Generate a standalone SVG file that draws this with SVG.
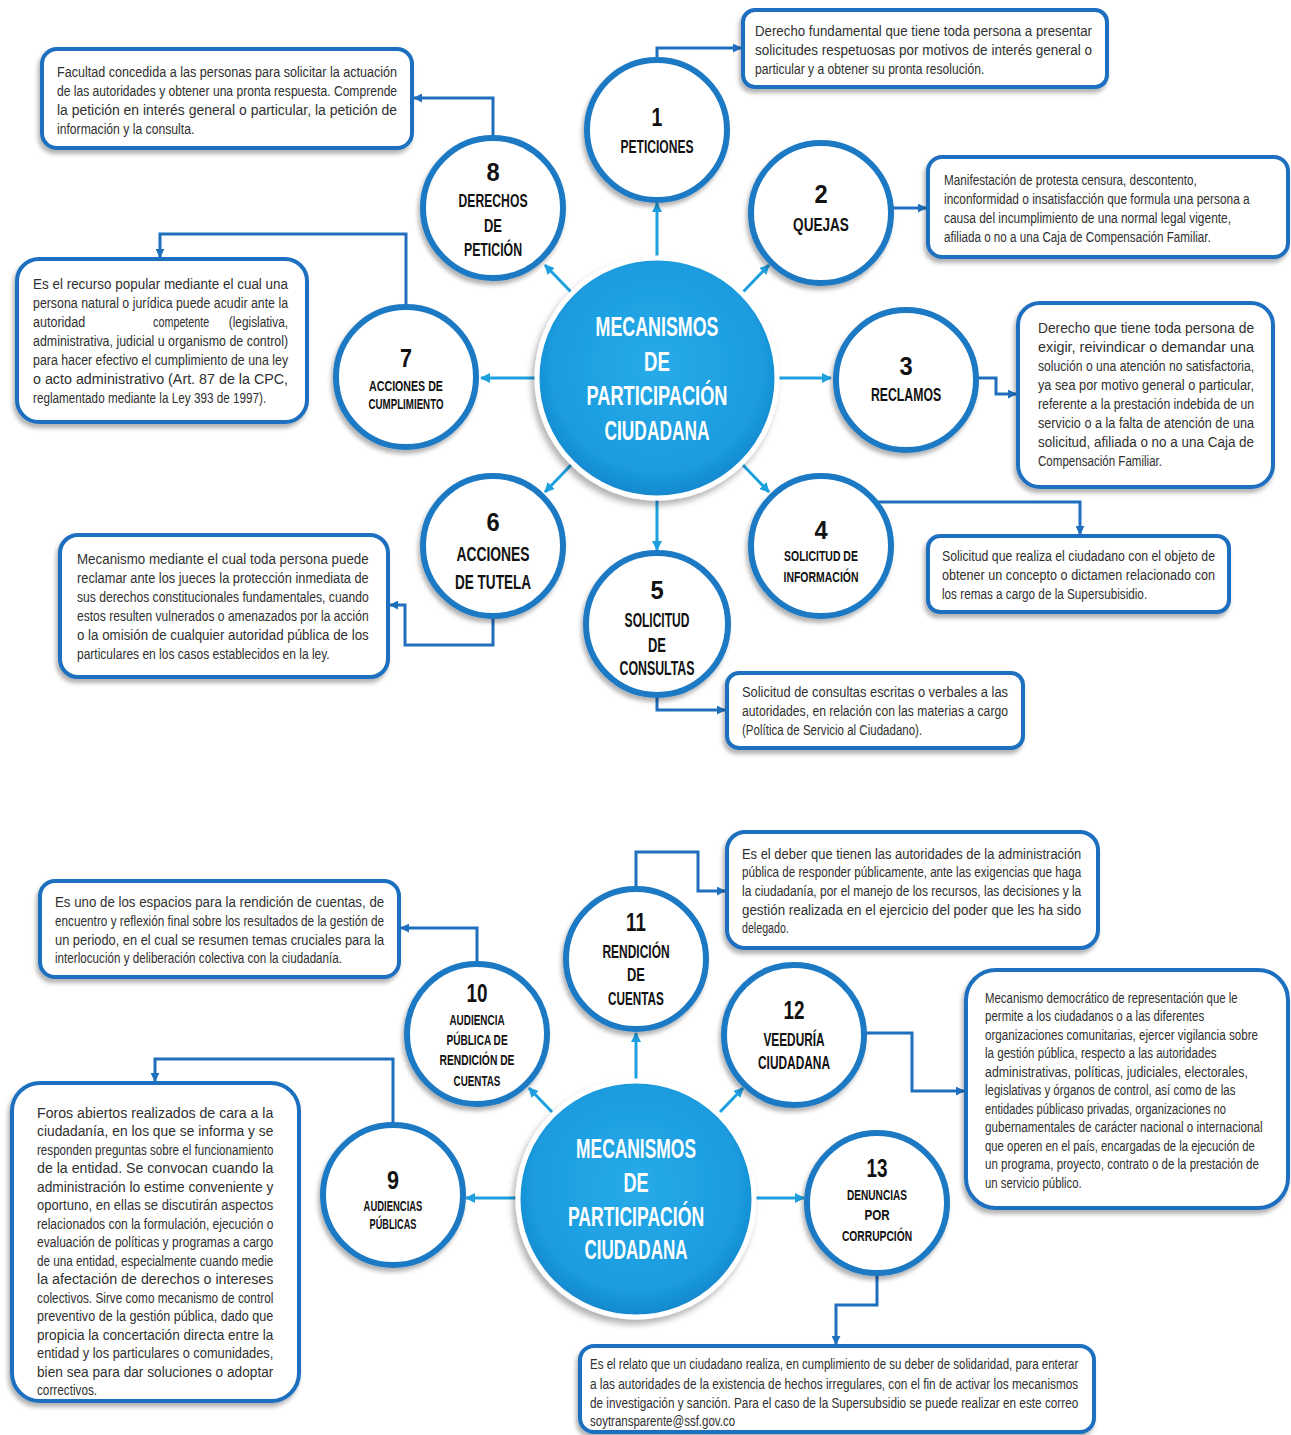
<svg xmlns="http://www.w3.org/2000/svg" width="1291" height="1435" viewBox="0 0 1291 1435">
<defs>
<style>
.box{fill:#fff;stroke:#1f6fbf;stroke-width:4;filter:url(#sh)}
.node{fill:#fff;stroke:#1e79c3;stroke-width:6;filter:url(#sh)}
.hub{fill:url(#hubg);stroke:#fff;stroke-width:5;filter:url(#sh2)}
.t{font-family:"Liberation Sans",Arial,sans-serif;font-size:14.5px;fill:#303030}
.h{font-family:"Liberation Sans",Arial,sans-serif;font-weight:bold;fill:#111;text-anchor:middle}
.n{font-size:26px}
.hw{fill:#fff;font-size:28px}
.cl{stroke:#1d9fe0;stroke-width:3;fill:none;marker-end:url(#al)}
.cd{stroke:#1f6fbf;stroke-width:3;fill:none;marker-end:url(#ad)}
</style>
<filter id="sh" x="-20%" y="-20%" width="140%" height="140%"><feDropShadow dx="-2" dy="4" stdDeviation="2" flood-color="#000" flood-opacity="0.3"/></filter>
<filter id="sh2" x="-20%" y="-20%" width="140%" height="140%"><feDropShadow dx="-3" dy="5" stdDeviation="3" flood-color="#000" flood-opacity="0.3"/></filter>
<radialGradient id="hubg" cx="50%" cy="45%" r="55%"><stop offset="0" stop-color="#27abe9"/><stop offset="0.8" stop-color="#1b9cdf"/><stop offset="1" stop-color="#1286cc"/></radialGradient>
<marker id="al" viewBox="0 0 10 10" refX="9" refY="5" markerWidth="10" markerHeight="10" markerUnits="userSpaceOnUse" orient="auto"><path d="M0,0 L10,5 L0,10 z" fill="#1d9fe0"/></marker>
<marker id="ad" viewBox="0 0 10 10" refX="9" refY="5" markerWidth="9" markerHeight="9" markerUnits="userSpaceOnUse" orient="auto"><path d="M0,0 L10,5 L0,10 z" fill="#1f6fbf"/></marker>
</defs>
<rect width="1291" height="1435" fill="#fff"/>

<g id="connectors">
<path class="cl" d="M657,258 V203"/>
<path class="cl" d="M743,292 L769,265"/>
<path class="cl" d="M779,378 H831"/>
<path class="cl" d="M742,464 L769,492"/>
<path class="cl" d="M657,498 V550"/>
<path class="cl" d="M572,464 L545,492"/>
<path class="cl" d="M537,378 H481"/>
<path class="cl" d="M571,292 L545,265"/>
<path class="cl" d="M636,1080 V1033"/>
<path class="cl" d="M552,1112 L529,1088"/>
<path class="cl" d="M720,1112 L743,1088"/>
<path class="cl" d="M518,1198 H466"/>
<path class="cl" d="M754,1198 H804"/>
<path class="cd" d="M493,138 V98 H414"/>
<path class="cd" d="M657,60 V48 H741"/>
<path class="cd" d="M892,208 H926"/>
<path class="cd" d="M978,378 H996 V394 H1016"/>
<path class="cd" d="M872,502 H1080 V534"/>
<path class="cd" d="M657,695 V710 H725"/>
<path class="cd" d="M493,616 V645 H405 V605 H390"/>
<path class="cd" d="M406,305 V234 H160 V257"/>
<path class="cd" d="M477,964 V928 H401"/>
<path class="cd" d="M636,889 V852 H698 V891 H725"/>
<path class="cd" d="M866,1033 H912 V1091 H964"/>
<path class="cd" d="M877,1274 V1305 H836 V1344"/>
<path class="cd" d="M393,1124 V1059 H155 V1081"/>
</g>

<g id="hub-top">
<circle class="hub" cx="657" cy="378" r="120"/>
<g transform="translate(657,0) scale(0.6,1)">
<text class="h hw" x="0" y="336" textLength="205" lengthAdjust="spacingAndGlyphs">MECANISMOS</text>
<text class="h hw" x="0" y="371" textLength="43" lengthAdjust="spacingAndGlyphs">DE</text>
<text class="h hw" x="0" y="405" textLength="235" lengthAdjust="spacingAndGlyphs">PARTICIPACIÓN</text>
<text class="h hw" x="0" y="440" textLength="175" lengthAdjust="spacingAndGlyphs">CIUDADANA</text>
</g>
</g>

<g id="node1">
<circle class="node" cx="657" cy="130" r="70"/>
<g transform="translate(657,0) scale(0.6,1)">
<text class="h n" x="0" y="126" textLength="18" lengthAdjust="spacingAndGlyphs">1</text>
<text class="h" x="0" y="153" font-size="19" textLength="122" lengthAdjust="spacingAndGlyphs">PETICIONES</text>
</g>
</g>
<g id="node2">
<circle class="node" cx="821" cy="213" r="70"/>
<g transform="translate(821,0) scale(0.6,1)">
<text class="h n" x="0" y="203" textLength="22" lengthAdjust="spacingAndGlyphs">2</text>
<text class="h" x="0" y="231" font-size="19" textLength="93" lengthAdjust="spacingAndGlyphs">QUEJAS</text>
</g>
</g>
<g id="node3">
<circle class="node" cx="906" cy="380" r="70"/>
<g transform="translate(906,0) scale(0.6,1)">
<text class="h n" x="0" y="375" textLength="22" lengthAdjust="spacingAndGlyphs">3</text>
<text class="h" x="0" y="401" font-size="19" textLength="117" lengthAdjust="spacingAndGlyphs">RECLAMOS</text>
</g>
</g>
<g id="node4">
<circle class="node" cx="821" cy="546" r="70"/>
<g transform="translate(821,0) scale(0.6,1)">
<text class="h n" x="0" y="539" textLength="22" lengthAdjust="spacingAndGlyphs">4</text>
<text class="h" x="0" y="561.5" font-size="15" textLength="123" lengthAdjust="spacingAndGlyphs">SOLICITUD DE</text>
<text class="h" x="0" y="582.5" font-size="15" textLength="125" lengthAdjust="spacingAndGlyphs">INFORMACIÓN</text>
</g>
</g>
<g id="node5">
<circle class="node" cx="657" cy="624" r="71"/>
<g transform="translate(657,0) scale(0.6,1)">
<text class="h n" x="0" y="599" textLength="22" lengthAdjust="spacingAndGlyphs">5</text>
<text class="h" x="0" y="627" font-size="20" textLength="108" lengthAdjust="spacingAndGlyphs">SOLICITUD</text>
<text class="h" x="0" y="652" font-size="20" textLength="30" lengthAdjust="spacingAndGlyphs">DE</text>
<text class="h" x="0" y="675" font-size="20" textLength="125" lengthAdjust="spacingAndGlyphs">CONSULTAS</text>
</g>
</g>
<g id="node6">
<circle class="node" cx="493" cy="546" r="70"/>
<g transform="translate(493,0) scale(0.6,1)">
<text class="h n" x="0" y="531" textLength="22" lengthAdjust="spacingAndGlyphs">6</text>
<text class="h" x="0" y="561" font-size="21" textLength="122" lengthAdjust="spacingAndGlyphs">ACCIONES</text>
<text class="h" x="0" y="589" font-size="21" textLength="127" lengthAdjust="spacingAndGlyphs">DE TUTELA</text>
</g>
</g>
<g id="node7">
<circle class="node" cx="406" cy="377" r="70"/>
<g transform="translate(406,0) scale(0.6,1)">
<text class="h n" x="0" y="367" textLength="20" lengthAdjust="spacingAndGlyphs">7</text>
<text class="h" x="0" y="391" font-size="14" textLength="123" lengthAdjust="spacingAndGlyphs">ACCIONES DE</text>
<text class="h" x="0" y="409" font-size="14" textLength="125" lengthAdjust="spacingAndGlyphs">CUMPLIMIENTO</text>
</g>
</g>
<g id="node8">
<circle class="node" cx="493" cy="208" r="70"/>
<g transform="translate(493,0) scale(0.6,1)">
<text class="h n" x="0" y="181" textLength="22" lengthAdjust="spacingAndGlyphs">8</text>
<text class="h" x="0" y="207" font-size="19" textLength="115" lengthAdjust="spacingAndGlyphs">DERECHOS</text>
<text class="h" x="0" y="232" font-size="19" textLength="30" lengthAdjust="spacingAndGlyphs">DE</text>
<text class="h" x="0" y="256" font-size="19" textLength="97" lengthAdjust="spacingAndGlyphs">PETICIÓN</text>
</g>
</g>

<g id="box1">
<rect class="box" x="743" y="10" width="364" height="77" rx="12"/>
<g transform="translate(755,0) scale(0.78,1)">
<text class="t" x="0" y="36" textLength="432" lengthAdjust="spacingAndGlyphs">Derecho fundamental que tiene toda persona a presentar</text>
<text class="t" x="0" y="55" textLength="432" lengthAdjust="spacingAndGlyphs">solicitudes respetuosas por motivos de interés general o</text>
<text class="t" x="0" y="74" textLength="294" lengthAdjust="spacingAndGlyphs">particular y a obtener su pronta resolución.</text>
</g>
</g>
<g id="box2">
<rect class="box" x="928" y="157" width="360" height="100" rx="14"/>
<g transform="translate(944,0) scale(0.78,1)">
<text class="t" x="0" y="185" textLength="324" lengthAdjust="spacingAndGlyphs">Manifestación de protesta censura, descontento,</text>
<text class="t" x="0" y="204" textLength="392" lengthAdjust="spacingAndGlyphs">inconformidad o insatisfacción que formula una persona a</text>
<text class="t" x="0" y="223" textLength="368" lengthAdjust="spacingAndGlyphs">causa del incumplimiento de una normal legal vigente,</text>
<text class="t" x="0" y="242" textLength="342" lengthAdjust="spacingAndGlyphs">afiliada o no a una Caja de Compensación Familiar.</text>
</g>
</g>
<g id="box3">
<rect class="box" x="1018" y="303" width="255" height="184" rx="22"/>
<g transform="translate(1038,0) scale(0.78,1)">
<text class="t" x="0" y="333" textLength="277" lengthAdjust="spacingAndGlyphs">Derecho que tiene toda persona de</text>
<text class="t" x="0" y="352" textLength="277" lengthAdjust="spacingAndGlyphs">exigir, reivindicar o demandar una</text>
<text class="t" x="0" y="371" textLength="277" lengthAdjust="spacingAndGlyphs">solución o una atención no satisfactoria,</text>
<text class="t" x="0" y="390" textLength="277" lengthAdjust="spacingAndGlyphs">ya sea por motivo general o particular,</text>
<text class="t" x="0" y="409" textLength="277" lengthAdjust="spacingAndGlyphs">referente a la prestación indebida de un</text>
<text class="t" x="0" y="428" textLength="277" lengthAdjust="spacingAndGlyphs">servicio o a la falta de atención de una</text>
<text class="t" x="0" y="447" textLength="277" lengthAdjust="spacingAndGlyphs">solicitud, afiliada o no a una Caja de</text>
<text class="t" x="0" y="466" textLength="159" lengthAdjust="spacingAndGlyphs">Compensación Familiar.</text>
</g>
</g>
<g id="box4">
<rect class="box" x="928" y="536" width="301" height="76" rx="12"/>
<g transform="translate(942,0) scale(0.78,1)">
<text class="t" x="0" y="561" textLength="350" lengthAdjust="spacingAndGlyphs">Solicitud que realiza el ciudadano con el objeto de</text>
<text class="t" x="0" y="580" textLength="350" lengthAdjust="spacingAndGlyphs">obtener un concepto o dictamen relacionado con</text>
<text class="t" x="0" y="599" textLength="263" lengthAdjust="spacingAndGlyphs">los remas a cargo de la Supersubisidio.</text>
</g>
</g>
<g id="box5">
<rect class="box" x="727" y="673" width="296" height="75" rx="12"/>
<g transform="translate(742,0) scale(0.78,1)">
<text class="t" x="0" y="697" textLength="341" lengthAdjust="spacingAndGlyphs">Solicitud de consultas escritas o verbales a las</text>
<text class="t" x="0" y="716" textLength="341" lengthAdjust="spacingAndGlyphs">autoridades, en relación con las materias a cargo</text>
<text class="t" x="0" y="735" textLength="231" lengthAdjust="spacingAndGlyphs">(Política de Servicio al Ciudadano).</text>
</g>
</g>
<g id="box6">
<rect class="box" x="60" y="535" width="328" height="142" rx="18"/>
<g transform="translate(77,0) scale(0.78,1)">
<text class="t" x="0" y="564" textLength="374" lengthAdjust="spacingAndGlyphs">Mecanismo mediante el cual toda persona puede</text>
<text class="t" x="0" y="583" textLength="374" lengthAdjust="spacingAndGlyphs">reclamar ante los jueces la protección inmediata de</text>
<text class="t" x="0" y="602" textLength="374" lengthAdjust="spacingAndGlyphs">sus derechos constitucionales fundamentales, cuando</text>
<text class="t" x="0" y="621" textLength="374" lengthAdjust="spacingAndGlyphs">estos resulten vulnerados o amenazados por la acción</text>
<text class="t" x="0" y="640" textLength="374" lengthAdjust="spacingAndGlyphs">o la omisión de cualquier autoridad pública de los</text>
<text class="t" x="0" y="659" textLength="324" lengthAdjust="spacingAndGlyphs">particulares en los casos establecidos en la ley.</text>
</g>
</g>
<g id="box7">
<rect class="box" x="17" y="259" width="290" height="163" rx="22"/>
<g transform="translate(33,0) scale(0.78,1)">
<text class="t" x="0" y="289" textLength="327" lengthAdjust="spacingAndGlyphs">Es el recurso popular mediante el cual una</text>
<text class="t" x="0" y="308" textLength="327" lengthAdjust="spacingAndGlyphs">persona natural o jurídica puede acudir ante la</text>
<text class="t" x="0" y="327" textLength="67" lengthAdjust="spacingAndGlyphs">autoridad</text>
<text class="t" x="154" y="327" textLength="72" lengthAdjust="spacingAndGlyphs">competente</text>
<text class="t" x="251" y="327" textLength="76" lengthAdjust="spacingAndGlyphs">(legislativa,</text>
<text class="t" x="0" y="346" textLength="327" lengthAdjust="spacingAndGlyphs">administrativa, judicial u organismo de control)</text>
<text class="t" x="0" y="365" textLength="327" lengthAdjust="spacingAndGlyphs">para hacer efectivo el cumplimiento de una ley</text>
<text class="t" x="0" y="384" textLength="327" lengthAdjust="spacingAndGlyphs">o acto administrativo (Art. 87 de la CPC,</text>
<text class="t" x="0" y="403" textLength="299" lengthAdjust="spacingAndGlyphs">reglamentado mediante la Ley 393 de 1997).</text>
</g>
</g>
<g id="box8">
<rect class="box" x="42" y="49" width="370" height="99" rx="15"/>
<g transform="translate(57,0) scale(0.78,1)">
<text class="t" x="0" y="77" textLength="436" lengthAdjust="spacingAndGlyphs">Facultad concedida a las personas para solicitar la actuación</text>
<text class="t" x="0" y="96" textLength="436" lengthAdjust="spacingAndGlyphs">de las autoridades y obtener una pronta respuesta. Comprende</text>
<text class="t" x="0" y="115" textLength="436" lengthAdjust="spacingAndGlyphs">la petición en interés general o particular, la petición de</text>
<text class="t" x="0" y="134" textLength="176" lengthAdjust="spacingAndGlyphs">información y la consulta.</text>
</g>
</g>

<g id="hub-bottom">
<circle class="hub" cx="636" cy="1199" r="118"/>
<g transform="translate(636,0) scale(0.6,1)">
<text class="h hw" x="0" y="1158" textLength="200" lengthAdjust="spacingAndGlyphs">MECANISMOS</text>
<text class="h hw" x="0" y="1192" textLength="42" lengthAdjust="spacingAndGlyphs">DE</text>
<text class="h hw" x="0" y="1226" textLength="227" lengthAdjust="spacingAndGlyphs">PARTICIPACIÓN</text>
<text class="h hw" x="0" y="1259" textLength="172" lengthAdjust="spacingAndGlyphs">CIUDADANA</text>
</g>
</g>

<g id="node9">
<circle class="node" cx="393" cy="1195" r="70"/>
<g transform="translate(393,0) scale(0.6,1)">
<text class="h n" x="0" y="1189" textLength="20" lengthAdjust="spacingAndGlyphs">9</text>
<text class="h" x="0" y="1211" font-size="14" textLength="98" lengthAdjust="spacingAndGlyphs">AUDIENCIAS</text>
<text class="h" x="0" y="1229" font-size="14" textLength="78" lengthAdjust="spacingAndGlyphs">PÚBLICAS</text>
</g>
</g>
<g id="node10">
<circle class="node" cx="477" cy="1034" r="70"/>
<g transform="translate(477,0) scale(0.6,1)">
<text class="h n" x="0" y="1002" textLength="35" lengthAdjust="spacingAndGlyphs">10</text>
<text class="h" x="0" y="1025.5" font-size="15" textLength="92" lengthAdjust="spacingAndGlyphs">AUDIENCIA</text>
<text class="h" x="0" y="1045.5" font-size="15" textLength="102" lengthAdjust="spacingAndGlyphs">PÚBLICA DE</text>
<text class="h" x="0" y="1065.5" font-size="15" textLength="125" lengthAdjust="spacingAndGlyphs">RENDICIÓN DE</text>
<text class="h" x="0" y="1086.5" font-size="15" textLength="78" lengthAdjust="spacingAndGlyphs">CUENTAS</text>
</g>
</g>
<g id="node11">
<circle class="node" cx="636" cy="959" r="70"/>
<g transform="translate(636,0) scale(0.6,1)">
<text class="h n" x="0" y="931" textLength="33" lengthAdjust="spacingAndGlyphs">11</text>
<text class="h" x="0" y="958" font-size="18" textLength="112" lengthAdjust="spacingAndGlyphs">RENDICIÓN</text>
<text class="h" x="0" y="981" font-size="18" textLength="30" lengthAdjust="spacingAndGlyphs">DE</text>
<text class="h" x="0" y="1005" font-size="18" textLength="93" lengthAdjust="spacingAndGlyphs">CUENTAS</text>
</g>
</g>
<g id="node12">
<circle class="node" cx="794" cy="1035" r="70"/>
<g transform="translate(794,0) scale(0.6,1)">
<text class="h n" x="0" y="1019" textLength="35" lengthAdjust="spacingAndGlyphs">12</text>
<text class="h" x="0" y="1046" font-size="18" textLength="102" lengthAdjust="spacingAndGlyphs">VEEDURÍA</text>
<text class="h" x="0" y="1069" font-size="18" textLength="120" lengthAdjust="spacingAndGlyphs">CIUDADANA</text>
</g>
</g>
<g id="node13">
<circle class="node" cx="877" cy="1203" r="70"/>
<g transform="translate(877,0) scale(0.6,1)">
<text class="h n" x="0" y="1177" textLength="35" lengthAdjust="spacingAndGlyphs">13</text>
<text class="h" x="0" y="1200.5" font-size="15" textLength="100" lengthAdjust="spacingAndGlyphs">DENUNCIAS</text>
<text class="h" x="0" y="1220.5" font-size="15" textLength="42" lengthAdjust="spacingAndGlyphs">POR</text>
<text class="h" x="0" y="1241.5" font-size="15" textLength="117" lengthAdjust="spacingAndGlyphs">CORRUPCIÓN</text>
</g>
</g>

<g id="box9">
<rect class="box" x="12" y="1083" width="287" height="318" rx="28"/>
<g transform="translate(37,0) scale(0.78,1)">
<text class="t" x="0" y="1118" textLength="303" lengthAdjust="spacingAndGlyphs">Foros abiertos realizados de cara a la</text>
<text class="t" x="0" y="1136" textLength="303" lengthAdjust="spacingAndGlyphs">ciudadanía, en los que se informa y se</text>
<text class="t" x="0" y="1155" textLength="303" lengthAdjust="spacingAndGlyphs">responden preguntas sobre el funcionamiento</text>
<text class="t" x="0" y="1173" textLength="303" lengthAdjust="spacingAndGlyphs">de la entidad. Se convocan cuando la</text>
<text class="t" x="0" y="1192" textLength="303" lengthAdjust="spacingAndGlyphs">administración lo estime conveniente y</text>
<text class="t" x="0" y="1210" textLength="303" lengthAdjust="spacingAndGlyphs">oportuno, en ellas se discutirán aspectos</text>
<text class="t" x="0" y="1229" textLength="303" lengthAdjust="spacingAndGlyphs">relacionados con la formulación, ejecución o</text>
<text class="t" x="0" y="1247" textLength="303" lengthAdjust="spacingAndGlyphs">evaluación de políticas y programas a cargo</text>
<text class="t" x="0" y="1266" textLength="303" lengthAdjust="spacingAndGlyphs">de una entidad, especialmente cuando medie</text>
<text class="t" x="0" y="1284" textLength="303" lengthAdjust="spacingAndGlyphs">la afectación de derechos o intereses</text>
<text class="t" x="0" y="1303" textLength="303" lengthAdjust="spacingAndGlyphs">colectivos. Sirve como mecanismo de control</text>
<text class="t" x="0" y="1321" textLength="303" lengthAdjust="spacingAndGlyphs">preventivo de la gestión pública, dado que</text>
<text class="t" x="0" y="1340" textLength="303" lengthAdjust="spacingAndGlyphs">propicia la concertación directa entre la</text>
<text class="t" x="0" y="1358" textLength="303" lengthAdjust="spacingAndGlyphs">entidad y los particulares o comunidades,</text>
<text class="t" x="0" y="1377" textLength="303" lengthAdjust="spacingAndGlyphs">bien sea para dar soluciones o adoptar</text>
<text class="t" x="0" y="1395" textLength="77" lengthAdjust="spacingAndGlyphs">correctivos.</text>
</g>
</g>
<g id="box10">
<rect class="box" x="40" y="881" width="359" height="96" rx="15"/>
<g transform="translate(55,0) scale(0.78,1)">
<text class="t" x="0" y="907" textLength="422" lengthAdjust="spacingAndGlyphs">Es uno de los espacios para la rendición de cuentas, de</text>
<text class="t" x="0" y="926" textLength="422" lengthAdjust="spacingAndGlyphs">encuentro y reflexión final sobre los resultados de la gestión de</text>
<text class="t" x="0" y="945" textLength="422" lengthAdjust="spacingAndGlyphs">un periodo, en el cual se resumen temas cruciales para la</text>
<text class="t" x="0" y="963" textLength="368" lengthAdjust="spacingAndGlyphs">interlocución y deliberación colectiva con la ciudadanía.</text>
</g>
</g>
<g id="box11">
<rect class="box" x="727" y="832" width="371" height="116" rx="18"/>
<g transform="translate(742,0) scale(0.78,1)">
<text class="t" x="0" y="859" textLength="435" lengthAdjust="spacingAndGlyphs">Es el deber que tienen las autoridades de la administración</text>
<text class="t" x="0" y="877" textLength="435" lengthAdjust="spacingAndGlyphs">pública de responder públicamente, ante las exigencias que haga</text>
<text class="t" x="0" y="896" textLength="435" lengthAdjust="spacingAndGlyphs">la ciudadanía, por el manejo de los recursos, las decisiones y la</text>
<text class="t" x="0" y="915" textLength="435" lengthAdjust="spacingAndGlyphs">gestión realizada en el ejercicio del poder que les ha sido</text>
<text class="t" x="0" y="933" textLength="60" lengthAdjust="spacingAndGlyphs">delegado.</text>
</g>
</g>
<g id="box12">
<rect class="box" x="966" y="970" width="322" height="238" rx="30"/>
<g transform="translate(985,0) scale(0.78,1)">
<text class="t" x="0" y="1003" textLength="324" lengthAdjust="spacingAndGlyphs">Mecanismo democrático de representación que le</text>
<text class="t" x="0" y="1021" textLength="281" lengthAdjust="spacingAndGlyphs">permite a los ciudadanos o a las diferentes</text>
<text class="t" x="0" y="1040" textLength="350" lengthAdjust="spacingAndGlyphs">organizaciones comunitarias, ejercer vigilancia sobre</text>
<text class="t" x="0" y="1058" textLength="297" lengthAdjust="spacingAndGlyphs">la gestión pública, respecto a las autoridades</text>
<text class="t" x="0" y="1077" textLength="337" lengthAdjust="spacingAndGlyphs">administrativas, políticas, judiciales, electorales,</text>
<text class="t" x="0" y="1095" textLength="321" lengthAdjust="spacingAndGlyphs">legislativas y órganos de control, así como de las</text>
<text class="t" x="0" y="1114" textLength="309" lengthAdjust="spacingAndGlyphs">entidades públicaso privadas, organizaciones no</text>
<text class="t" x="0" y="1132" textLength="356" lengthAdjust="spacingAndGlyphs">gubernamentales de carácter nacional o internacional</text>
<text class="t" x="0" y="1151" textLength="346" lengthAdjust="spacingAndGlyphs">que operen en el país, encargadas de la ejecución de</text>
<text class="t" x="0" y="1169" textLength="351" lengthAdjust="spacingAndGlyphs">un programa, proyecto, contrato o de la prestación de</text>
<text class="t" x="0" y="1188" textLength="124" lengthAdjust="spacingAndGlyphs">un servicio público.</text>
</g>
</g>
<g id="box13">
<rect class="box" x="580" y="1346" width="514" height="86" rx="14"/>
<g transform="translate(590,0) scale(0.78,1)">
<text class="t" x="0" y="1369" textLength="626" lengthAdjust="spacingAndGlyphs">Es el relato que un ciudadano realiza, en cumplimiento de su deber de solidaridad, para enterar</text>
<text class="t" x="0" y="1389" textLength="626" lengthAdjust="spacingAndGlyphs">a las autoridades de la existencia de hechos irregulares, con el fin de activar los mecanismos</text>
<text class="t" x="0" y="1408" textLength="626" lengthAdjust="spacingAndGlyphs">de investigación y sanción. Para el caso de la Supersubsidio se puede realizar en este correo</text>
<text class="t" x="0" y="1426" textLength="186" lengthAdjust="spacingAndGlyphs">soytransparente@ssf.gov.co</text>
</g>
</g>
</svg>
